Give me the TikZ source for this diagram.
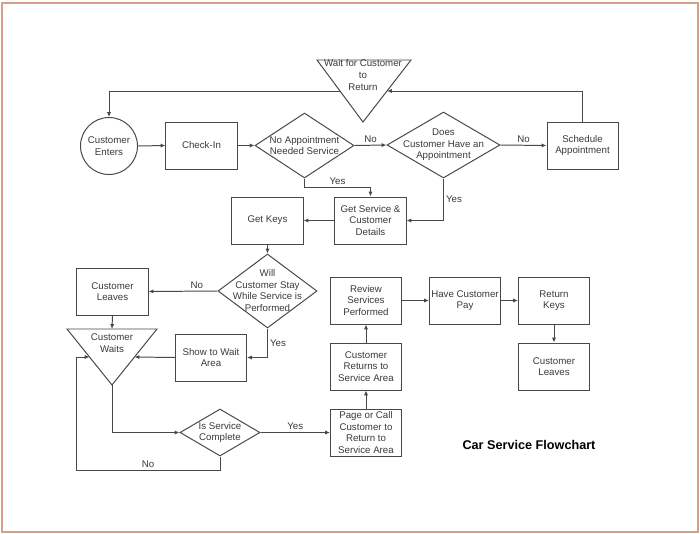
\documentclass[tikz,border=0pt]{standalone}
\usepackage{fontspec}
\setmainfont{Liberation Sans}
\usetikzlibrary{arrows.meta}
\usetikzlibrary{shapes.geometric}
\usetikzlibrary{calc}
\definecolor{ink}{HTML}{3A3A3A}
\definecolor{edge}{HTML}{484848}
\definecolor{framecol}{RGB}{214,160,132}
\tikzset{txt/.style = {align=center, inner sep=0, text=ink,
                       font=\fontsize{6.9}{8.2}\selectfont}}
\tikzset{box/.style = {txt, draw=edge, line width=0.7pt, rectangle,
                       minimum width=1.775cm, minimum height=1.175cm}}
\tikzset{circ/.style = {txt, draw=edge, line width=0.7pt, circle, minimum size=1.425cm}}
\tikzset{dec/.style = {draw=edge, line width=0.7pt, diamond, inner sep=0}}
\tikzset{tri/.style = {draw=edge, line width=0.7pt, line join=miter}}
\tikzset{lab/.style = {txt, inner sep=1.5pt}}
\tikzset{arr/.style = {draw=edge, line width=0.7pt, -{Latex[length=3.5pt, width=3pt]}}}

\begin{document}
\begin{tikzpicture}[x=0.025cm, y=-0.025cm]
      \useasboundingbox (0, 0) rectangle (700, 534);
      \fill[white] (0, 0) rectangle (700, 534);
      \draw[framecol, line width=2pt] (2, 3) rectangle (698, 532);

      \coordinate (wait-a) at (317, 60);
      \coordinate (wait-b) at (411, 60);
      \coordinate (wait-c) at (363, 122);
      \coordinate (wait-l) at ($(wait-a)!0.5!(wait-c)$);
      \coordinate (wait-r) at ($(wait-b)!0.5!(wait-c)$);
      \draw[tri] (wait-a) -- (wait-b) -- (wait-c) -- cycle;
      \node (waitt) at (363, 75) [txt] {Wait for Customer\\to\\Return};

      \node (enter) at (109, 146) [circ] {Customer\\Enters};
      \node (checkin) at (201.5, 145.5) [box] {Check-In};
      \node (d1) at (304.5, 145.5) [dec, minimum width=2.475cm, minimum height=1.625cm] {};
      \node (d1t) at (d1) [txt] {No Appointment\\Needed Service};
      \node (d2) at (443.5, 145) [dec, minimum width=2.825cm, minimum height=1.65cm] {};
      \node (d2t) at (d2) [txt] {Does\\Customer Have an\\Appointment};
      \node (sched) at (582.5, 145.5) [box] {Schedule\\Appointment};

      \node (getsvc) at (370.5, 220.5) [box] {Get Service \&\\Customer\\Details};
      \node (keys) at (267.5, 220.5) [box] {Get Keys};
      \node (d3) at (267.5, 291) [dec, minimum width=2.475cm, minimum height=1.85cm] {};
      \node (d3t) at (267.5, 290.5) [txt] {Will\\Customer Stay\\While Service is\\Performed};
      \node (leave1) at (112.5, 291.5) [box] {Customer\\Leaves};

      \coordinate (waits-a) at (67, 329);
      \coordinate (waits-b) at (157, 329);
      \coordinate (waits-c) at (112, 385);
      \coordinate (waits-top) at ($(waits-a)!0.5!(waits-b)$);
      \coordinate (waits-l) at ($(waits-a)!0.5!(waits-c)$);
      \coordinate (waits-r) at ($(waits-b)!0.5!(waits-c)$);
      \draw[tri] (waits-a) -- (waits-b) -- (waits-c) -- cycle;
      \node (waitst) at (112, 343) [txt] {Customer\\Waits};

      \node (showwait) at (211, 357.5) [box] {Show to Wait\\Area};
      \node (d4) at (220, 432.5) [dec, minimum width=2cm, minimum height=1.175cm] {};
      \node (d4t) at (d4) [txt] {Is Service\\Complete};
      \coordinate (noloop) at (76, 470);

      \node (page) at (366, 432.5) [box] {Page or Call\\Customer to\\Return to\\Service Area};
      \node (back) at (366, 366.5) [box] {Customer\\Returns to\\Service Area};
      \node (review) at (366, 300.5) [box] {Review\\Services\\Performed};
      \node (pay) at (465, 300.5) [box] {Have Customer\\Pay};
      \node (retkeys) at (554, 300.5) [box] {Return\\Keys};
      \node (leave2) at (554, 366.5) [box] {Customer\\Leaves};

      \node (title) at (529, 445) [text=black, font=\bfseries\fontsize{9}{10}\selectfont] {Car Service Flowchart};

      \draw[arr] (sched.north) |- (wait-r);
      \draw[arr] (wait-l) -| (enter.north);
      \draw[arr] (enter.east) -- (checkin.west);
      \draw[arr] (checkin.east) -- (d1.west);
      \draw[arr] (d1.east) -- node [lab, pos = 0.5, above] (no1) {No} (d2.west);
      \draw[arr] (d2.east) -- node [lab, pos = 0.5, above] (no2) {No} (sched.west);
      \draw[arr] (d1.south) -- ++(0, 9) -| node [lab, pos = 0.25, above] (yes1) {Yes} (getsvc.north);
      \draw[arr] (d2.south) |- node [lab, pos = 0.25, right] (yes2) {Yes} (getsvc.east);
      \draw[arr] (getsvc.west) -- (keys.east);
      \draw[arr] (keys.south) -- (d3.north);
      \draw[arr] (d3.west) -- node [lab, pos = 0.3, above] (no3) {No} (leave1.east);
      \draw[arr] (leave1.south) -- (waits-top);
      \draw[arr] (d3.south) |- node [lab, pos = 0.25, right] (yes3) {Yes} (showwait.east);
      \draw[arr] (showwait.west) -- (waits-r);
      \draw[arr] (waits-c) |- (d4.west);
      \draw[arr] (d4.east) -- node [lab, pos = 0.5, above] (yes4) {Yes} (page.west);
      \draw[arr] (d4.south) |- node [lab, pos = 0.75, above] (no4) {No} (noloop) |- (waits-l);
      \draw[arr] (page.north) -- (back.south);
      \draw[arr] (back.north) -- (review.south);
      \draw[arr] (review.east) -- (pay.west);
      \draw[arr] (pay.east) -- (retkeys.west);
      \draw[arr] (retkeys.south) -- (leave2.north);
\end{tikzpicture}
\end{document}
